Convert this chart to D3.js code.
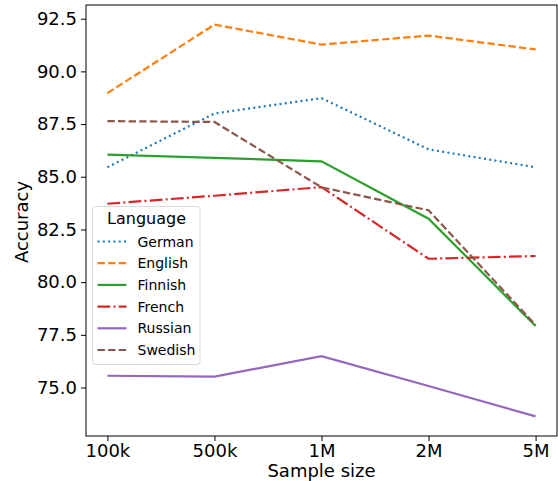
<!DOCTYPE html>
<html>
<head>
<meta charset="utf-8">
<script src="https://cdn.jsdelivr.net/npm/d3@7"></script>
<style>
  body { margin: 0; background: #fff; }
  svg text { font-family: "DejaVu Sans", sans-serif; fill: #000; }
</style>
</head>
<body>
<div id="chart"></div>
<script>
// Data
const sizes = ['100k', '500k', '1M', '2M', '5M'];
const languages = ['German', 'English', 'Finnish', 'French', 'Russian', 'Swedish'];
const german  = [85.45, 88.0, 88.73, 86.3, 85.45];
const english = [88.97, 92.22, 91.27, 91.7, 91.04];
const finnish = [86.05, 85.9, 85.73, 83.01, 77.92];
const french  = [83.72, 84.1, 84.51, 81.11, 81.24];
const russian = [75.56, 75.52, 76.49, 75.07, 73.63];
const swedish = [87.64, 87.6, 84.5, 83.41, 77.97];
const yTicks = [75.0, 77.5, 80.0, 82.5, 85.0, 87.5, 90.0, 92.5];

const series = [german, english, finnish, french, russian, swedish];
const colors = ['#1f77b4', '#ff7f0e', '#2ca02c', '#d62728', '#9467bd', '#8c564b'];
const dashes = ['2,3.3', '7.4,3.2', null, '12.8,3.2,2,3.2', null, '7.4,3.2'];

const width = 558, height = 481;
const margin = { left: 86, right: 1, top: 5, bottom: 45 };

const svg = d3.select('#chart')
  .append('svg')
  .attr('width', width)
  .attr('height', height);

// matplotlib style 5% margins
const x = d3.scaleLinear()
  .domain([-0.2, sizes.length - 1 + 0.2])
  .range([margin.left, width - margin.right]);

const allVals = series.flat();
const yMin = d3.min(allVals), yMax = d3.max(allVals);
const pad = (yMax - yMin) * 0.05;
const y = d3.scaleLinear()
  .domain([yMin - pad, yMax + pad])
  .range([height - margin.bottom, margin.top]);

// Lines
const line = d3.line()
  .x((d, i) => x(i))
  .y(d => y(d));

series.forEach((s, k) => {
  svg.append('path')
    .datum(s)
    .attr('fill', 'none')
    .attr('stroke', colors[k])
    .attr('stroke-width', 2.2)
    .attr('stroke-dasharray', dashes[k])
    .attr('d', line);
});

// Axes
const xAxis = svg.append('g')
  .attr('transform', `translate(0,${height - margin.bottom})`)
  .call(d3.axisBottom(x).tickValues(d3.range(sizes.length)).tickFormat(i => sizes[i]).tickSizeOuter(0).tickSize(5).tickPadding(3));

const yAxis = svg.append('g')
  .attr('transform', `translate(${margin.left},0)`)
  .call(d3.axisLeft(y).tickValues(yTicks).tickFormat(d3.format('.1f')).tickSizeOuter(0).tickSize(5).tickPadding(4));

[xAxis, yAxis].forEach(a => {
  a.selectAll('text').style('font-size', '18px');
  a.selectAll('line').attr('stroke', '#000').attr('stroke-width', 1);
  a.select('.domain').remove();
});

// Frame
svg.append('rect')
  .attr('x', margin.left)
  .attr('y', margin.top)
  .attr('width', width - margin.left - margin.right)
  .attr('height', height - margin.top - margin.bottom)
  .attr('fill', 'none')
  .attr('stroke', '#000')
  .attr('stroke-width', 1);

// Axis labels
svg.append('text')
  .attr('x', (margin.left + width - margin.right) / 2)
  .attr('y', 477)
  .attr('text-anchor', 'middle')
  .style('font-size', '18px')
  .text('Sample size');

svg.append('text')
  .attr('transform', 'translate(28,222) rotate(-90)')
  .attr('text-anchor', 'middle')
  .style('font-size', '18px')
  .text('Accuracy');

// Legend
const legend = svg.append('g').attr('transform', 'translate(92.5,206.5)');
legend.append('rect')
  .attr('width', 107.5)
  .attr('height', 158)
  .attr('rx', 3)
  .attr('fill', 'rgba(255,255,255,0.8)')
  .attr('stroke', '#d9d9d9');

legend.append('text')
  .attr('x', 54)
  .attr('y', 17.5)
  .attr('text-anchor', 'middle')
  .style('font-size', '16px')
  .text('Language');

languages.forEach((name, k) => {
  const ly = 35 + k * 21.7;
  legend.append('line')
    .attr('x1', 5).attr('x2', 34)
    .attr('y1', ly).attr('y2', ly)
    .attr('stroke', colors[k])
    .attr('stroke-width', 2.2)
    .attr('stroke-dasharray', dashes[k]);
  legend.append('text')
    .attr('x', 45)
    .attr('y', ly + 5)
    .style('font-size', '14px')
    .text(name);
});
</script>
</body>
</html>
